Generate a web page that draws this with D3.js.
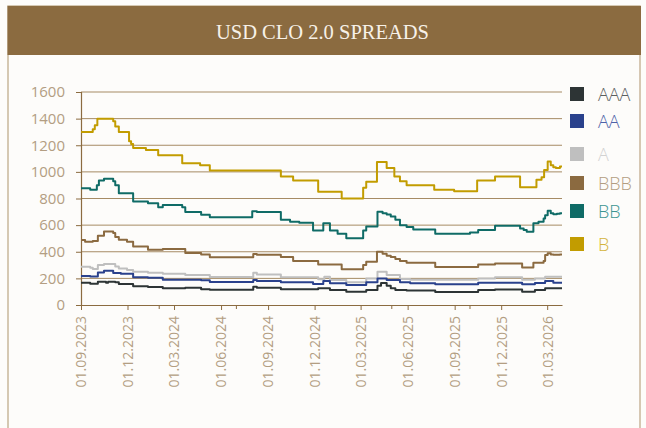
<!DOCTYPE html>
<html>
<head>
<meta charset="utf-8">
<script src="https://cdn.jsdelivr.net/npm/d3@7"></script>
<style>
  html, body { margin: 0; padding: 0; background: #fdfcfa; }
  svg { display: block; }
</style>
</head>
<body>
<svg id="chart" width="646" height="428"></svg>
<script>
const title = "USD CLO 2.0 SPREADS";
const seriesNames = ["AAA", "AA", "A", "BBB", "BB", "B"];
const yTicks = [0, 200, 400, 600, 800, 1000, 1200, 1400, 1600];
const xTickDates = ["2023-09-01","2023-12-01","2024-03-01","2024-06-01","2024-09-01","2024-12-01","2025-03-01","2025-06-01","2025-09-01","2025-12-01","2026-03-01"];
const xMinorDates = ["2024-02-01","2024-07-01","2025-05-01","2025-10-01"];
const xDomain = ["2023-09-01", "2026-03-30"];

const B = [["2023-09-01",1300],["2023-09-24",1320],["2023-09-28",1350],["2023-10-03",1400],["2023-11-03",1380],["2023-11-07",1340],["2023-11-14",1300],["2023-12-04",1230],["2023-12-08",1210],["2023-12-12",1180],["2024-01-06",1165],["2024-01-30",1125],["2024-03-17",1065],["2024-04-21",1050],["2024-05-10",1010],["2024-09-26",965],["2024-10-20",935],["2024-12-08",850],["2025-01-23",800],["2025-03-06",880],["2025-03-12",925],["2025-04-02",1075],["2025-04-21",1030],["2025-05-06",965],["2025-05-17",930],["2025-05-30",900],["2025-07-23",865],["2025-08-31",855],["2025-10-15",935],["2025-11-19",965],["2026-01-07",885],["2026-02-08",940],["2026-02-18",960],["2026-02-23",1015],["2026-03-02",1077],["2026-03-08",1050],["2026-03-13",1035],["2026-03-18",1030],["2026-03-26",1040],["2026-03-30",1040]];
const BB = [["2023-09-01",877],["2023-09-19",865],["2023-10-02",900],["2023-10-06",935],["2023-10-16",948],["2023-11-03",930],["2023-11-07",900],["2023-11-14",840],["2023-12-12",778],["2024-01-10",765],["2024-01-30",735],["2024-02-08",752],["2024-03-17",735],["2024-03-23",698],["2024-04-23",678],["2024-05-10",660],["2024-08-01",705],["2024-08-10",698],["2024-09-26",640],["2024-10-14",625],["2024-11-01",618],["2024-11-28",560],["2024-12-18",615],["2024-12-31",560],["2025-01-15",535],["2025-02-01",502],["2025-03-06",560],["2025-03-12",590],["2025-04-03",700],["2025-04-13",690],["2025-04-21",680],["2025-04-29",665],["2025-05-08",640],["2025-05-17",600],["2025-05-30",585],["2025-06-12",568],["2025-07-25",535],["2025-10-01",545],["2025-10-17",563],["2025-11-19",595],["2026-01-07",575],["2026-01-14",563],["2026-01-20",550],["2026-02-02",614],["2026-02-12",625],["2026-02-22",650],["2026-02-25",675],["2026-03-02",708],["2026-03-08",690],["2026-03-13",681],["2026-03-20",685],["2026-03-26",690],["2026-03-30",690]];
const BBB = [["2023-09-01",488],["2023-09-09",475],["2023-09-24",480],["2023-10-04",520],["2023-10-16",553],["2023-11-03",540],["2023-11-07",510],["2023-11-14",490],["2023-11-30",475],["2023-12-12",440],["2024-01-10",415],["2024-02-08",420],["2024-03-23",390],["2024-04-23",380],["2024-05-10",358],["2024-08-03",383],["2024-08-10",378],["2024-09-26",360],["2024-10-20",330],["2024-12-08",305],["2025-01-23",268],["2025-03-06",300],["2025-03-12",325],["2025-04-02",400],["2025-04-13",385],["2025-04-21",370],["2025-04-29",360],["2025-05-08",345],["2025-05-17",330],["2025-05-30",318],["2025-07-25",285],["2025-10-17",305],["2025-11-19",312],["2026-01-11",282],["2026-02-02",318],["2026-02-22",330],["2026-02-25",375],["2026-03-02",388],["2026-03-08",380],["2026-03-13",378],["2026-03-26",380],["2026-03-30",380]];
const A = [["2023-09-01",288],["2023-09-19",280],["2023-09-24",270],["2023-10-04",300],["2023-10-16",308],["2023-11-07",290],["2023-11-14",275],["2023-11-30",262],["2023-12-12",250],["2024-01-10",243],["2024-02-08",235],["2024-03-23",225],["2024-05-10",210],["2024-08-03",243],["2024-08-10",230],["2024-09-26",208],["2024-12-08",193],["2024-12-20",213],["2024-12-31",188],["2025-02-01",170],["2025-03-12",200],["2025-04-03",250],["2025-04-21",225],["2025-05-17",195],["2025-06-06",190],["2025-10-17",200],["2025-11-19",208],["2026-01-11",190],["2026-02-05",200],["2026-02-25",213],["2026-03-30",213]];
const AA = [["2023-09-01",218],["2023-09-19",215],["2023-10-04",245],["2023-10-16",258],["2023-11-03",240],["2023-11-18",235],["2023-12-12",208],["2024-01-10",205],["2024-02-08",190],["2024-04-23",185],["2024-05-10",173],["2024-08-03",188],["2024-08-10",180],["2024-09-26",170],["2024-11-28",158],["2024-12-18",180],["2024-12-31",163],["2025-02-01",150],["2025-03-12",170],["2025-04-03",200],["2025-04-21",188],["2025-05-17",170],["2025-06-06",163],["2025-07-25",155],["2025-10-17",168],["2026-01-11",155],["2026-02-05",165],["2026-02-25",180],["2026-03-13",168],["2026-03-30",168]];
const AAA = [["2023-09-01",168],["2023-09-19",160],["2023-10-04",175],["2023-10-20",168],["2023-10-24",175],["2023-11-07",170],["2023-11-14",158],["2023-12-12",140],["2024-01-10",135],["2024-02-08",125],["2024-03-23",130],["2024-04-23",118],["2024-05-10",115],["2024-08-03",138],["2024-08-10",130],["2024-09-26",118],["2024-12-08",125],["2024-12-31",113],["2025-02-01",100],["2025-03-12",113],["2025-04-03",145],["2025-04-10",165],["2025-04-21",145],["2025-04-29",125],["2025-05-08",113],["2025-05-30",108],["2025-07-25",97],["2025-10-17",112],["2025-11-19",116],["2026-01-11",100],["2026-02-05",112],["2026-02-25",125],["2026-03-30",125]];

const seriesData = { AAA, AA, A, BBB, BB, B };
const lineColors = { AAA: "#2d3435", AA: "#2a418c", A: "#bfbfbf", BBB: "#8b6a40", BB: "#0f6b66", B: "#c29c00" };
const textColors = { AAA: "#5b6060", AA: "#4d62a8", A: "#d2d2d2", BBB: "#b39e82", BB: "#3c9591", B: "#d4b43c" };
const legendTops = [87, 114, 147, 176, 204, 237];

const parse = d3.timeParse("%Y-%m-%d");
const fmt = d3.timeFormat("%d.%m.%Y");
const svg = d3.select("#chart");

// frame
svg.append("rect").attr("x", 8).attr("y", 6).attr("width", 632).attr("height", 430)
  .attr("fill", "#fdfcfa").attr("stroke", "#c8b69b").attr("stroke-width", 1.5);
svg.append("rect").attr("x", 7.5).attr("y", 6).attr("width", 633.5).attr("height", 49)
  .attr("fill", "#8b6b40");
svg.append("text").attr("x", 322.5).attr("y", 39).attr("text-anchor", "middle")
  .attr("font-family", "'Liberation Serif', 'DejaVu Serif', serif").attr("font-size", 20.5)
  .attr("fill", "#f7f1e8").text(title);

const x = d3.scaleTime().domain(xDomain.map(parse)).range([81, 562]);
const y = d3.scaleLinear().domain([0, 1600]).range([305, 92]);

const axisColor = "#8b6b40";
const labelColor = "#b39e82";
const font = "'Open Sans', 'Noto Sans', sans-serif";

// gridlines
svg.append("g").selectAll("line").data(yTicks.filter(d => d > 0)).join("line")
  .attr("x1", 81).attr("x2", 562).attr("y1", d => y(d)).attr("y2", d => y(d))
  .attr("stroke", "#a68b64").attr("stroke-width", 1);

// y axis
const yAxis = svg.append("g").attr("transform", "translate(81,0)")
  .call(d3.axisLeft(y).tickValues(yTicks).tickSize(5).tickPadding(11).tickFormat(d3.format("d")));
yAxis.select(".domain").attr("stroke", axisColor).attr("stroke-width", 1.2);
yAxis.selectAll(".tick line").attr("stroke", axisColor);
yAxis.selectAll(".tick text").attr("fill", labelColor).attr("font-family", font).attr("font-size", 15);

// x axis
const xAxis = svg.append("g").attr("transform", "translate(0,305)")
  .call(d3.axisBottom(x).tickValues(xTickDates.map(parse)).tickSize(5).tickSizeOuter(0).tickFormat(fmt));
xAxis.select(".domain").attr("stroke", axisColor).attr("stroke-width", 1.2);
xAxis.selectAll(".tick line").attr("stroke", axisColor);
xAxis.selectAll(".tick text").attr("fill", labelColor).attr("font-family", font).attr("font-size", 14)
  .attr("transform", "rotate(-90)").attr("text-anchor", "end").attr("x", -11).attr("y", 0).attr("dy", "0.35em");
svg.append("g").selectAll("line").data(xMinorDates.map(parse)).join("line")
  .attr("x1", d => x(d)).attr("x2", d => x(d)).attr("y1", 305).attr("y2", 309)
  .attr("stroke", axisColor);

// lines
const line = d3.line().x(d => x(parse(d[0]))).y(d => y(d[1])).curve(d3.curveStepAfter);
const drawOrder = ["A", "AA", "AAA", "BBB", "BB", "B"];
svg.append("g").selectAll("path").data(drawOrder).join("path")
  .attr("d", k => line(seriesData[k]))
  .attr("fill", "none").attr("stroke", k => lineColors[k]).attr("stroke-width", 2)
  .attr("stroke-linejoin", "round");

// legend
const lg = svg.append("g").selectAll("g").data(seriesNames).join("g")
  .attr("transform", (d, i) => `translate(570,${legendTops[i]})`);
lg.append("rect").attr("width", 14).attr("height", 14).attr("fill", d => lineColors[d]);
lg.append("text").attr("x", 28).attr("y", 13.5).attr("font-family", font).attr("font-weight", 300)
  .attr("font-size", 18).attr("fill", d => textColors[d]).text(d => d);
</script>
</body>
</html>
